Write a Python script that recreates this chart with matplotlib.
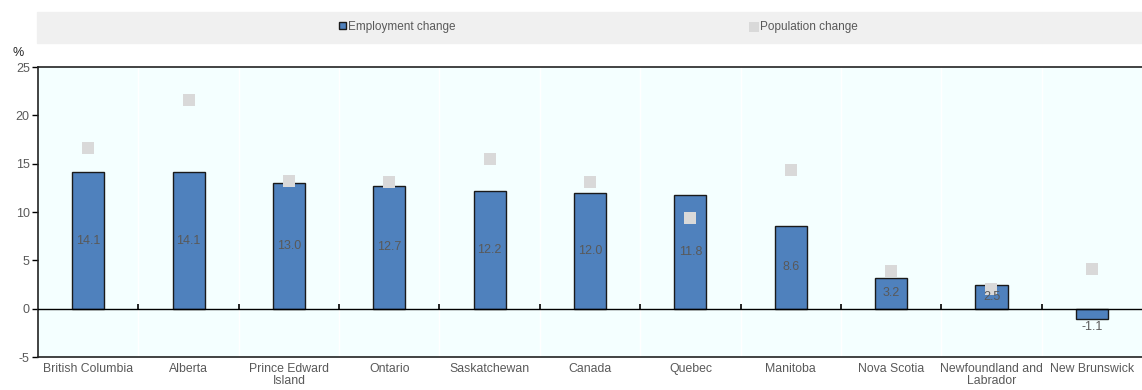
import numpy as np
import matplotlib.pyplot as plt

plt.rcParams['font.family'] = ['Liberation Sans', 'DejaVu Sans']

provinces = ["British Columbia", "Alberta", "Prince Edward\nIsland", "Ontario",
             "Saskatchewan", "Canada", "Quebec", "Manitoba", "Nova Scotia",
             "Newfoundland and\nLabrador", "New Brunswick"]
employment = [14.1, 14.1, 13.0, 12.7, 12.2, 12.0, 11.8, 8.6, 3.2, 2.5, -1.1]
population = [16.6, 21.6, 13.2, 13.1, 15.5, 13.1, 9.4, 14.3, 3.9, 2.0, 4.1]
yticks = [-5, 0, 5, 10, 15, 20, 25]

grey_txt = '#595959'
bar_col = '#4f81bd'
pop_col = '#d9d9d9'

fig = plt.figure(figsize=(11.42, 3.9), dpi=100)
ax = fig.add_axes([0.0333, 0.0846, 0.9667, 0.7436])
ax.set_facecolor('#f4ffff')

x = np.arange(len(provinces))
bars = ax.bar(x, employment, width=0.32, color=bar_col, edgecolor='#1a1a1a',
              linewidth=1.0, zorder=3, label='Employment change')
pts = ax.scatter(x, population, marker='s', s=80, color=pop_col, zorder=4,
                 linewidths=0, label='Population change')

# value labels in the middle of each bar (below the bar when negative)
for xi, v in zip(x, employment):
    if v >= 0:
        ax.text(xi, v / 2, f'{v:.1f}', ha='center', va='center',
                fontsize=9, color=grey_txt, zorder=5)
    else:
        ax.text(xi, v - 0.15, f'{v:.1f}', ha='center', va='top',
                fontsize=9, color=grey_txt, zorder=5)

ax.set_xlim(-0.5, len(provinces) - 0.5)
ax.set_ylim(-5, 25)
ax.set_yticks(yticks)
ax.set_yticklabels([str(t) for t in yticks])
ax.set_xticks(x)
ax.set_xticklabels(provinces, fontsize=8.8, color=grey_txt, linespacing=1.1)
ax.tick_params(axis='x', length=0, pad=4)
ax.tick_params(axis='y', labelsize=9, labelcolor=grey_txt, length=4,
               direction='out', width=1, pad=2)

# white separators between categories
bounds = np.arange(len(provinces) - 1) + 0.5
for b in bounds:
    ax.axvline(b, color='white', linewidth=1, zorder=1)
ax.axhline(0, color='black', linewidth=1, zorder=3)
ax.vlines(bounds, 0, 0.5, color='black', linewidth=1.2, zorder=3)

for side in ['left', 'bottom', 'top']:
    ax.spines[side].set_color('#222222')
    ax.spines[side].set_linewidth(1.2)
ax.spines['right'].set_visible(False)

fig.text(0.016, 0.85, '%', fontsize=9, color='#222222', ha='center',
         va='bottom')

# legend band across the top
fig.patches.append(plt.Rectangle((0.0325, 0.89), 0.9675, 0.08,
                                 transform=fig.transFigure,
                                 color='#f0f0f0', zorder=0))
fig.legend(handles=[bars, pts], loc='center', bbox_to_anchor=(0.524, 0.931),
           ncol=2, frameon=False, fontsize=8.5, labelcolor=grey_txt,
           handlelength=0.6, handleheight=0.6, handletextpad=0.2,
           columnspacing=25, markerscale=0.85)

fig.savefig('out.png', dpi=100)
